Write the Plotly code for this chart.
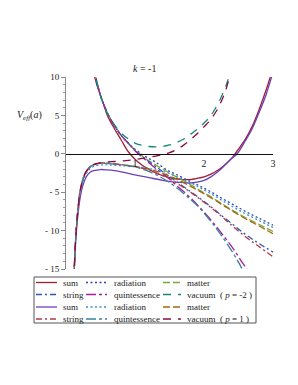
import plotly.graph_objects as go

# ---------------- data ----------------
# p = -2 family (curves coming down from +infinity)
a_sum_m2 = [0.40, 0.45, 0.50, 0.55, 0.60, 0.70, 0.80, 0.90, 1.00, 1.10, 1.20, 1.30, 1.40, 1.50, 1.60, 1.70, 1.80, 1.90, 2.00, 2.10, 2.20, 2.30, 2.40, 2.45, 2.50, 2.60, 2.70, 2.80, 2.90, 2.96, 3.00]
V_sum_m2 = [10.6, 8.9, 7.6, 6.3, 5.0, 3.3, 1.8, 0.3, -0.7, -1.45, -2.0, -2.5, -2.85, -3.1, -3.25, -3.35, -3.35, -3.2, -3.0, -2.65, -2.15, -1.45, -0.6, 0.0, 0.6, 1.9, 3.6, 5.8, 8.3, 10.0, 11.3]

a_rad_m2 = [0.40, 0.43, 0.50, 0.60, 0.70, 0.80, 0.90, 1.00, 1.10, 1.20, 1.30, 1.46, 1.60, 1.80, 1.94, 2.10, 2.25, 2.42, 2.60, 2.80, 3.00]
V_rad_m2 = [11.5, 10.0, 7.6, 5.3, 3.7, 2.4, 1.4, 0.6, -0.05, -0.6, -1.1, -2.1, -2.7, -3.6, -4.2, -4.95, -5.75, -6.6, -7.5, -8.4, -9.3]

a_mat_m2 = [0.40, 0.43, 0.50, 0.60, 0.70, 0.80, 0.90, 1.00, 1.10, 1.20, 1.30, 1.46, 1.60, 1.80, 1.94, 2.10, 2.25, 2.42, 2.60, 2.80, 3.00]
V_mat_m2 = [11.5, 10.0, 7.6, 5.3, 3.7, 2.4, 1.4, 0.5, -0.25, -0.9, -1.45, -2.3, -3.0, -4.0, -4.75, -5.6, -6.45, -7.4, -8.3, -9.2, -10.1]

a_str_m2 = [0.40, 0.43, 0.50, 0.60, 0.70, 0.80, 0.90, 1.00, 1.10, 1.20, 1.30, 1.46, 1.60, 1.80, 1.94, 2.10, 2.25, 2.42, 2.60, 2.80, 3.00]
V_str_m2 = [11.5, 10.0, 7.6, 5.3, 3.7, 2.4, 1.4, 0.45, -0.35, -1.0, -1.65, -2.7, -3.6, -4.9, -5.8, -6.9, -8.0, -9.2, -10.5, -11.7, -12.8]

a_qui_m2 = [0.40, 0.43, 0.50, 0.60, 0.70, 0.80, 0.90, 1.00, 1.10, 1.20, 1.30, 1.46, 1.60, 1.80, 1.94, 2.10, 2.25, 2.42, 2.55, 2.62, 2.66]
V_qui_m2 = [11.5, 10.0, 7.6, 5.3, 3.7, 2.4, 1.4, 0.4, -0.4, -1.15, -1.9, -3.0, -4.1, -5.7, -7.0, -8.6, -10.3, -12.3, -14.1, -15.0, -15.6]

a_vac_m2 = [0.40, 0.43, 0.50, 0.60, 0.70, 0.80, 0.90, 1.00, 1.10, 1.20, 1.30, 1.40, 1.50, 1.60, 1.70, 1.80, 1.90, 2.00, 2.10, 2.20, 2.30, 2.36, 2.40]
V_vac_m2 = [11.5, 10.0, 7.6, 5.3, 3.8, 2.7, 1.95, 1.4, 1.1, 0.95, 0.9, 0.95, 1.15, 1.45, 1.9, 2.5, 3.2, 4.0, 5.0, 6.5, 8.4, 10.0, 11.2]

# p = 1 family (curves coming up from -infinity)
a_sum_p1 = [0.115, 0.12, 0.13, 0.14, 0.15, 0.17, 0.20, 0.23, 0.26, 0.30, 0.35, 0.40, 0.50, 0.60, 0.70, 0.80, 1.00, 1.20, 1.40, 1.60, 1.80, 1.90, 2.00, 2.10, 2.20, 2.30, 2.40, 2.48, 2.60, 2.70, 2.80, 2.90, 2.98, 3.02]
V_sum_p1 = [-16.5, -15.0, -13.2, -11.5, -10.2, -8.2, -6.0, -4.6, -3.7, -2.9, -2.4, -2.2, -2.05, -2.1, -2.2, -2.35, -2.75, -3.1, -3.45, -3.7, -3.8, -3.7, -3.45, -3.0, -2.35, -1.5, -0.6, 0.0, 1.7, 3.3, 5.4, 7.7, 10.0, 11.2]

a_rad_p1 = [0.115, 0.12, 0.13, 0.14, 0.15, 0.17, 0.20, 0.23, 0.26, 0.30, 0.35, 0.40, 0.50, 0.60, 0.70, 0.80, 0.90, 1.00, 1.20, 1.30, 1.46, 1.60, 1.80, 1.94, 2.10, 2.25, 2.42, 2.60, 2.80, 3.00]
V_rad_p1 = [-16.5, -15.0, -13.0, -11.2, -9.9, -7.8, -5.5, -4.1, -3.2, -2.5, -1.95, -1.65, -1.45, -1.45, -1.5, -1.55, -1.6, -1.65, -1.9, -2.1, -2.45, -2.95, -3.75, -4.4, -5.2, -6.0, -6.9, -7.8, -8.7, -9.6]

a_mat_p1 = [0.115, 0.12, 0.13, 0.14, 0.15, 0.17, 0.20, 0.23, 0.26, 0.30, 0.35, 0.40, 0.50, 0.60, 0.70, 0.80, 0.90, 1.00, 1.20, 1.30, 1.46, 1.60, 1.80, 1.94, 2.10, 2.25, 2.42, 2.60, 2.80, 3.00]
V_mat_p1 = [-16.5, -15.0, -12.9, -11.0, -9.7, -7.6, -5.2, -3.9, -3.0, -2.3, -1.75, -1.45, -1.25, -1.25, -1.3, -1.4, -1.5, -1.65, -2.0, -2.25, -2.75, -3.3, -4.2, -4.9, -5.7, -6.55, -7.5, -8.45, -9.4, -10.4]

a_str_p1 = [0.115, 0.12, 0.13, 0.14, 0.15, 0.17, 0.20, 0.23, 0.26, 0.30, 0.35, 0.40, 0.50, 0.60, 0.70, 0.80, 0.90, 1.00, 1.20, 1.30, 1.46, 1.60, 1.80, 1.94, 2.10, 2.25, 2.42, 2.60, 2.80, 3.00]
V_str_p1 = [-16.5, -15.0, -12.8, -11.0, -9.6, -7.5, -5.1, -3.8, -2.9, -2.2, -1.7, -1.4, -1.2, -1.2, -1.3, -1.4, -1.55, -1.7, -2.1, -2.45, -3.05, -3.8, -4.95, -5.9, -7.0, -8.1, -9.45, -10.8, -12.1, -13.4]

a_qui_p1 = [0.115, 0.12, 0.13, 0.14, 0.15, 0.17, 0.20, 0.23, 0.26, 0.30, 0.35, 0.40, 0.50, 0.60, 0.70, 0.80, 0.90, 1.00, 1.20, 1.30, 1.46, 1.60, 1.80, 1.94, 2.10, 2.25, 2.42, 2.53, 2.57]
V_qui_p1 = [-16.5, -15.0, -12.8, -11.0, -9.6, -7.5, -5.1, -3.8, -2.9, -2.2, -1.7, -1.4, -1.2, -1.25, -1.35, -1.45, -1.55, -1.7, -2.3, -2.7, -3.5, -4.4, -5.9, -7.1, -8.8, -10.6, -12.9, -14.6, -15.3]

a_vac_p1 = [0.115, 0.12, 0.13, 0.14, 0.15, 0.17, 0.20, 0.23, 0.26, 0.30, 0.35, 0.40, 0.50, 0.60, 0.70, 0.80, 0.90, 1.00, 1.10, 1.20, 1.30, 1.40, 1.50, 1.60, 1.70, 1.80, 1.90, 2.00, 2.10, 2.20, 2.30, 2.37, 2.40]
V_vac_p1 = [-16.5, -15.0, -12.8, -11.0, -9.6, -7.5, -5.1, -3.8, -2.9, -2.2, -1.7, -1.4, -1.15, -1.05, -1.0, -0.95, -0.85, -0.75, -0.6, -0.45, -0.3, -0.1, 0.15, 0.55, 1.1, 1.8, 2.6, 3.5, 4.5, 5.9, 7.9, 10.0, 11.0]

# tick labels
x_tickvals = [1, 2, 3]
x_ticktext = ["1", "2", "3"]
y_tickvals = [10, 5, 0, -5, -10, -15]
y_ticktext = ["10", "5", "0", "- 5", "- 10", "- 15"]

# legend order (row by row, three columns)
names = ["sum", "radiation", "matter",
         "string", "quintessence", "vacuum  ( <i>p</i> = -2 )",
         "sum", "radiation", "matter",
         "string", "quintessence", "vacuum  ( <i>p</i> = 1 )"]
xs = [a_sum_m2, a_rad_m2, a_mat_m2, a_str_m2, a_qui_m2, a_vac_m2,
      a_sum_p1, a_rad_p1, a_mat_p1, a_str_p1, a_qui_p1, a_vac_p1]
ys = [V_sum_m2, V_rad_m2, V_mat_m2, V_str_m2, V_qui_m2, V_vac_m2,
      V_sum_p1, V_rad_p1, V_mat_p1, V_str_p1, V_qui_p1, V_vac_p1]
colors = ["#A01E30", "#2E40C0", "#78AC30",
          "#2F58B2", "#A0209A", "#14897A",
          "#6A40BE", "#3C90D2", "#A8650F",
          "#B23A4C", "#3A7FA2", "#860C42"]
dashes = ["solid", "2px,2.5px", "7px,3px",
          "6px,3px,2px,3px", "10px,3px,3px,3px", "8px,7px",
          "solid", "2px,2.5px", "7px,3px",
          "6px,3px,2px,3px", "10px,3px,3px,3px", "8px,7px"]

fig = go.Figure()
for n, x, y, c, d in zip(names, xs, ys, colors, dashes):
    fig.add_trace(go.Scatter(x=x, y=y, mode="lines", name=n, showlegend=False,
                             line=dict(color=c, dash=d, width=1.3, shape="spline", smoothing=1.0)))

# geometry helpers (pixel -> paper) for the boxed key under the plot
W, H = 298, 385
ML, MR, MT, MB = 66, 25, 77, 116
PW, PH = W - ML - MR, H - MT - MB


def px(xp):
    return (xp - ML) / PW


def py(yp):
    return (H - MB - yp) / PH


shapes = []
annotations = []
# legend box
shapes.append(dict(type="rect", xref="paper", yref="paper",
                   x0=px(34), x1=px(256), y0=py(277), y1=py(323),
                   line=dict(color="#555555", width=1), fillcolor="rgba(0,0,0,0)"))
col_x0 = [36, 86, 163]
col_x1 = [57, 107, 181]
col_tx = [61, 112, 185]
row_y = [282.5, 294.5, 307, 319]
for i, (n, c, d) in enumerate(zip(names, colors, dashes)):
    r, k = divmod(i, 3)
    shapes.append(dict(type="line", xref="paper", yref="paper",
                       x0=px(col_x0[k]), x1=px(col_x1[k]), y0=py(row_y[r]), y1=py(row_y[r]),
                       line=dict(color=c, dash=d, width=1.3)))
    annotations.append(dict(text=n, xref="paper", yref="paper", x=px(col_tx[k]), y=py(row_y[r]),
                            xanchor="left", yanchor="middle", showarrow=False,
                            font=dict(family="Liberation Serif", size=9, color="#222222")))

annotations.append(dict(text="<i>k</i> = -1", xref="paper", yref="paper", x=px(144), y=py(68),
                        xanchor="center", yanchor="middle", showarrow=False,
                        font=dict(family="Liberation Serif", size=10, color="#222222")))
annotations.append(dict(text="<i>V</i><sub><i>eff</i></sub>(<i>a</i>)", xref="paper", yref="y",
                        x=px(29), y=5, xanchor="center", yanchor="middle", showarrow=False,
                        font=dict(family="Liberation Serif", size=10, color="#222222")))

fig.update_layout(
    width=W, height=H,
    margin=dict(l=ML, r=MR, t=MT, b=MB, pad=0),
    paper_bgcolor="white", plot_bgcolor="white",
    showlegend=False,
    shapes=shapes, annotations=annotations,
    font=dict(family="Liberation Serif", size=9, color="#222222"),
    xaxis=dict(range=[0, 3], anchor="free", position=0.6, showline=True, linecolor="#111111",
               linewidth=1.3, showgrid=False, zeroline=False, tickvals=x_tickvals,
               ticktext=x_ticktext, ticks="",
               tickfont=dict(family="Liberation Serif", size=10)),
    yaxis=dict(range=[-15, 10], showline=True, linecolor="#888888", linewidth=1,
               showgrid=False, zeroline=False, tickvals=y_tickvals, ticktext=y_ticktext,
               ticks="outside", ticklen=4, tickcolor="#888888",
               minor=dict(dtick=1, ticks="outside", ticklen=2, tickcolor="#999999"),
               tickfont=dict(family="Liberation Serif", size=9)),
)

fig.write_html("out.html", config={"displayModeBar": False},
               post_script="document.body.style.margin='0';document.body.style.padding='0';")
